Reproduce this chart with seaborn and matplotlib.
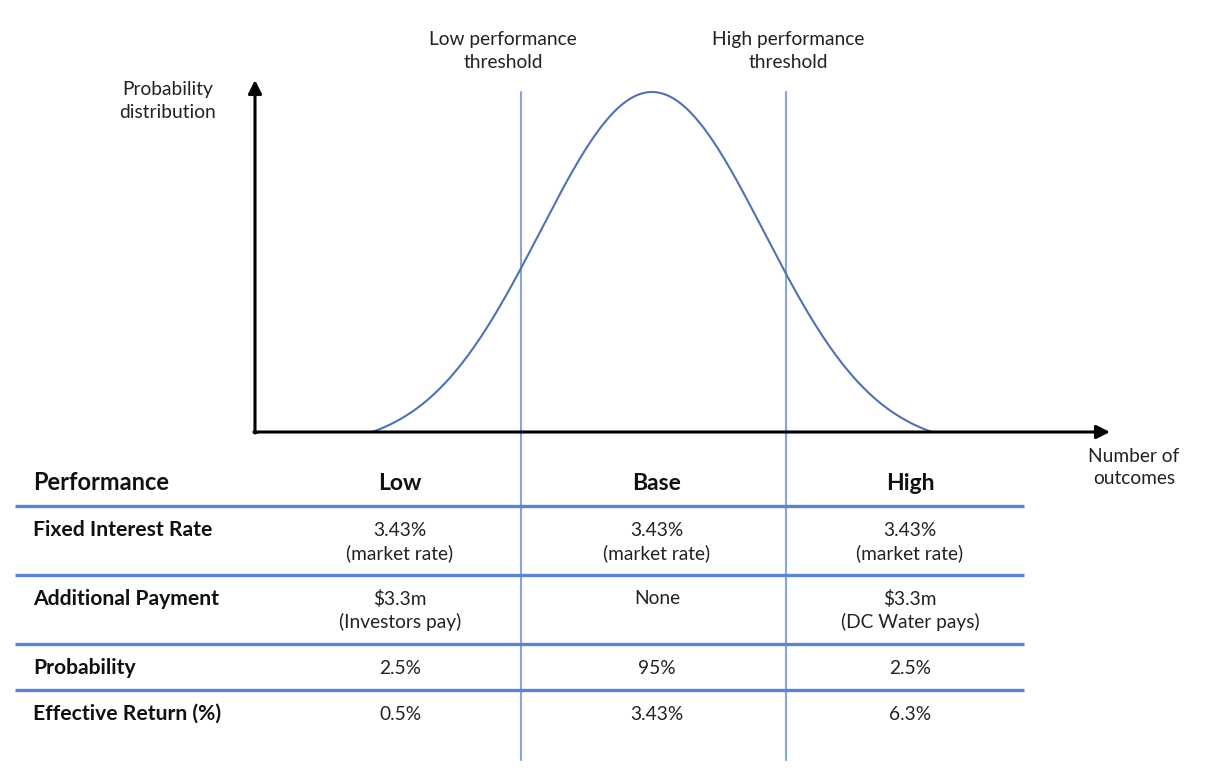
import numpy as np
import pandas as pd
import matplotlib
matplotlib.use("Agg")
import matplotlib.pyplot as plt
import seaborn as sns

# Diagram geometry (canvas units, y grows downward)
curve_center = 652
curve_sd = 112
curve_half_span = 280
baseline_y = 432
peak_height = 340
low_threshold = 521
high_threshold = 786

# Table content
row_labels = ["Fixed Interest Rate", "Additional Payment", "Probability", "Effective Return (%)"]
scenarios = ["Low", "Base", "High"]
fixed_rate = ["3.43%\n(market rate)", "3.43%\n(market rate)", "3.43%\n(market rate)"]
additional_payment = ["$3.3m\n(Investors pay)", "None", "$3.3m\n(DC Water pays)"]
probability = ["2.5%", "95%", "2.5%"]
effective_return = ["0.5%", "3.43%", "6.3%"]

sns.set_theme(style="white")
plt.rcParams["font.family"] = ["Lato", "DejaVu Sans"]

W, H = 1224, 772
LINE_GAP = 23
BODY = 13.8

fig = plt.figure(figsize=(W / 100, H / 100), dpi=100)
ax = fig.add_axes([0, 0, 1, 1])
ax.set_xlim(0, W)
ax.set_ylim(H, 0)
ax.axis("off")


def lines(x, y, s, **kw):
    """Draw a multi-line string one line at a time, starting at y."""
    for i, part in enumerate(s.split("\n")):
        ax.text(x, y + i * LINE_GAP, part, va="center", **kw)


# Bell curve, truncated at its support and shifted to meet the baseline
d = np.linspace(-curve_half_span, curve_half_span, 400)
g = np.exp(-d ** 2 / (2 * curve_sd ** 2))
g_end = np.exp(-curve_half_span ** 2 / (2 * curve_sd ** 2))
dens = (g - g_end) / (1 - g_end)
curve = pd.DataFrame({"x": curve_center + d, "y": baseline_y - dens * peak_height})
sns.lineplot(data=curve, x="x", y="y", ax=ax, color="#4f72b3", lw=1.5, sort=False, estimator=None)

# Threshold lines
for xt in (low_threshold, high_threshold):
    ax.plot([xt, xt], [92, 760], color="#86a5df", lw=1.5, zorder=1)

# Axes arrows
arrow = dict(arrowstyle="-|>", lw=2.2, color="black", mutation_scale=20, shrinkA=0, shrinkB=0)
ax.annotate("", xy=(255, 80), xytext=(255, baseline_y + 1), arrowprops=arrow)
ax.annotate("", xy=(1110, baseline_y), xytext=(254, baseline_y), arrowprops=arrow)
ax.plot([254, 256], [baseline_y, baseline_y], color="black", lw=2.2)

txt = dict(fontsize=BODY, color="#222222", ha="center")
lines(168, 90, "Probability\ndistribution", **txt)
lines(503, 40, "Low performance\nthreshold", **txt)
lines(788, 40, "High performance\nthreshold", **txt)
lines(1134, 456, "Number of\noutcomes", **txt)

# Table
col_x = [400, 657, 910]
header_y = 483
ax.text(33, header_y, "Performance", fontsize=17, fontweight="bold", ha="left", va="center", color="#111111")
for cx, name in zip(col_x, scenarios):
    ax.text(cx, header_y, name, fontsize=16.5, fontweight="bold", ha="center", va="center", color="#111111")

for ly in (506, 575, 644, 690):
    ax.plot([15, 1024], [ly, ly], color="#5b85d3", lw=2.4, zorder=2, solid_capstyle="butt")

rows = [fixed_rate, additional_payment, probability, effective_return]
row_top = [530, 599, 668, 714]
for label, vals, y0 in zip(row_labels, rows, row_top):
    ax.text(33, y0, label, fontsize=15.2, fontweight="bold", ha="left", va="center", color="#111111")
    for cx, v in zip(col_x, vals):
        lines(cx, y0, v, fontsize=BODY, ha="center", color="#222222")

fig.savefig("out.png", dpi=100, facecolor="white")
